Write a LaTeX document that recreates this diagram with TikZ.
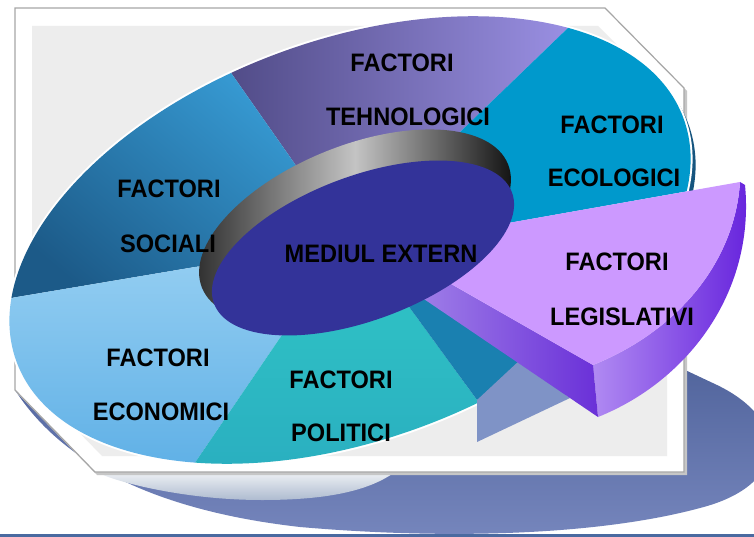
\documentclass[tikz,border=0pt]{standalone}
\usepackage{fontspec}
\setmainfont{Liberation Sans}
\usepackage{graphicx}
\definecolor{shadowT}{HTML}{4A5E96}
\definecolor{shadowB}{HTML}{7686BD}
\definecolor{reflT}{HTML}{EEF1F4}
\definecolor{reflB}{HTML}{AEBBD0}
\definecolor{panelgray}{HTML}{EDEDED}
\definecolor{tehL}{HTML}{4E4984}
\definecolor{tehR}{HTML}{A095EA}
\definecolor{eco}{HTML}{0099CC}
\definecolor{ecoSide}{HTML}{16557F}
\definecolor{socT}{HTML}{3AA2DC}
\definecolor{socB}{HTML}{1C5A88}
\definecolor{econT}{HTML}{96CFF2}
\definecolor{econB}{HTML}{5FB0E6}
\definecolor{polT}{HTML}{30C6C6}
\definecolor{polB}{HTML}{2AAFC0}
\definecolor{gapblue}{HTML}{1A80B0}
\definecolor{pale}{HTML}{7F93C6}
\definecolor{legTop}{HTML}{CC99FF}
\definecolor{wallL}{HTML}{B08AF2}
\definecolor{wallR}{HTML}{6420DC}
\definecolor{sideL}{HTML}{A080E8}
\definecolor{sideR}{HTML}{6A30D8}
\definecolor{medblue}{HTML}{333399}
\definecolor{lineblue}{HTML}{4A6AA0}
\definecolor{ringL}{HTML}{2A2A2A}
\definecolor{ringM}{HTML}{C4C4C4}
\definecolor{ringR}{HTML}{0A0A0A}
\newcommand{\tallword}[1]{\scalebox{1}[1.07]{#1}}
\begin{document}
\begin{tikzpicture}[x=1pt,y=-1pt,
  lbl/.style={font=\fontsize{23.6}{28}\selectfont\bfseries, inner sep=0pt, text=black}]
\useasboundingbox (0,0) rectangle (754,537);
\clip (0,0) rectangle (754,537);
\fill[white] (0,0) rectangle (754,537);

% floor shadow
\shade[top color=shadowT, bottom color=shadowB]
  (15,390) .. controls (60,460) and (150,510) .. (300,527)
  .. controls (450,540) and (600,535) .. (700,508)
  .. controls (790,485) and (790,420) .. (717,385)
  -- (600,330) -- (15,330) -- cycle;
\shade[top color=reflT, bottom color=reflB]
  (97,472) .. controls (110,480) and (180,500) .. (262,500)
  .. controls (330,500) and (370,490) .. (395,472) -- cycle;

% bottom rule
\fill[lineblue] (0,534) rectangle (754,537);

% panel
\fill[gray!45] (17,11) -- (607,11) -- (687,91) -- (687,475) -- (97,475) -- (17,393) -- cycle;
\filldraw[fill=white, draw=gray!70, line width=1.2pt]
  (15,8) -- (605,8) -- (684,88) -- (684,472) -- (95,472) -- (15,390) -- cycle;
\fill[panelgray] (32,26) -- (598,26) -- (667,95) -- (667,456) -- (102,456) -- (32,384) -- cycle;

% donut thickness on the right
\begin{scope}
  \clip (640,60) rectangle (760,200);
  \fill[ecoSide, rotate around={20:(355,246)}] (355,246) ellipse [x radius=355pt, y radius=200pt];
\end{scope}
% glow
\fill[white, rotate around={20:(350,240)}] (350,240) ellipse [x radius=357pt, y radius=202pt];

% segments
\begin{scope}
  \clip[rotate around={20:(350,240)}] (350,240) ellipse [x radius=355pt, y radius=200pt];
  \shade[left color=tehL, right color=tehR]
    (352,247) -- (290,157) -- (215,50) -- (215,0) -- (597,0) -- (459,133) -- cycle;
  \fill[eco]
    (352,247) -- (459,133) -- (597,0) -- (700,0) -- (700,189) -- (500,224.5) -- cycle;
  \shade[top color=socT, bottom color=socB, shading angle=-40]
    (352,247) -- (290,157) -- (215,50) -- (0,50) -- (0,300) -- (17,297) -- (195,267) -- cycle;
  \shade[top color=econT, bottom color=econB]
    (352,247) -- (195,267) -- (17,297) -- (0,300) -- (0,470) -- (190,470) -- (284,332) -- cycle;
  \shade[top color=polT, bottom color=polB]
    (352,247) -- (284,332) -- (190,470) -- (528,470) -- (410,308) -- cycle;
\end{scope}

% gap left by the exploded slice
\fill[gapblue] (399,293) -- (477,400) -- (527,370) -- (440,280) -- cycle;
\fill[pale] (477,400) -- (477,442) -- (570,398) -- (520,360) -- cycle;

% exploded slice
\shade[left color=wallL, right color=wallR]
  (740,182) .. controls (735,260) and (680,330) .. (593,365)
  -- (598,417) .. controls (690,380) and (755,290) .. (745,185) -- cycle;
\shade[left color=sideL, right color=sideR]
  (440,277.6) -- (593,365) -- (598,417) -- (415,293) -- cycle;
\fill[legTop]
  (460,231.5) -- (740,182) .. controls (735,260) and (680,330) .. (593,365)
  -- (440,277.6) -- cycle;

% hole wall and centre
\begin{scope}
  \clip[rotate around={22:(355,226)}] (355,226) ellipse [x radius=165pt, y radius=80pt];
  \shade[left color=ringL, right color=ringR, middle color=ringM] (190,120) rectangle (520,330);
\end{scope}
\fill[medblue, rotate around={20.5:(363,248)}] (363,248) ellipse [x radius=159pt, y radius=72pt];

% labels
\node[lbl] (teh1) at (402,63) {\tallword{FACTORI}};
\node[lbl] (teh2) at (408,117) {\tallword{TEHNOLOGICI}};
\node[lbl] (eco1) at (612,125) {\tallword{FACTORI}};
\node[lbl] (eco2) at (614,178) {\tallword{ECOLOGICI}};
\node[lbl] (soc1) at (169,189) {\tallword{FACTORI}};
\node[lbl] (soc2) at (168,244) {\tallword{SOCIALI}};
\node[lbl] (med) at (381,254) {\tallword{MEDIUL EXTERN}};
\node[lbl] (leg1) at (617,262) {\tallword{FACTORI}};
\node[lbl] (leg2) at (622,317) {\tallword{LEGISLATIVI}};
\node[lbl] (ecn1) at (158,358) {\tallword{FACTORI}};
\node[lbl] (ecn2) at (161,412) {\tallword{ECONOMICI}};
\node[lbl] (pol1) at (341,380) {\tallword{FACTORI}};
\node[lbl] (pol2) at (341,433) {\tallword{POLITICI}};
\end{tikzpicture}
\end{document}
